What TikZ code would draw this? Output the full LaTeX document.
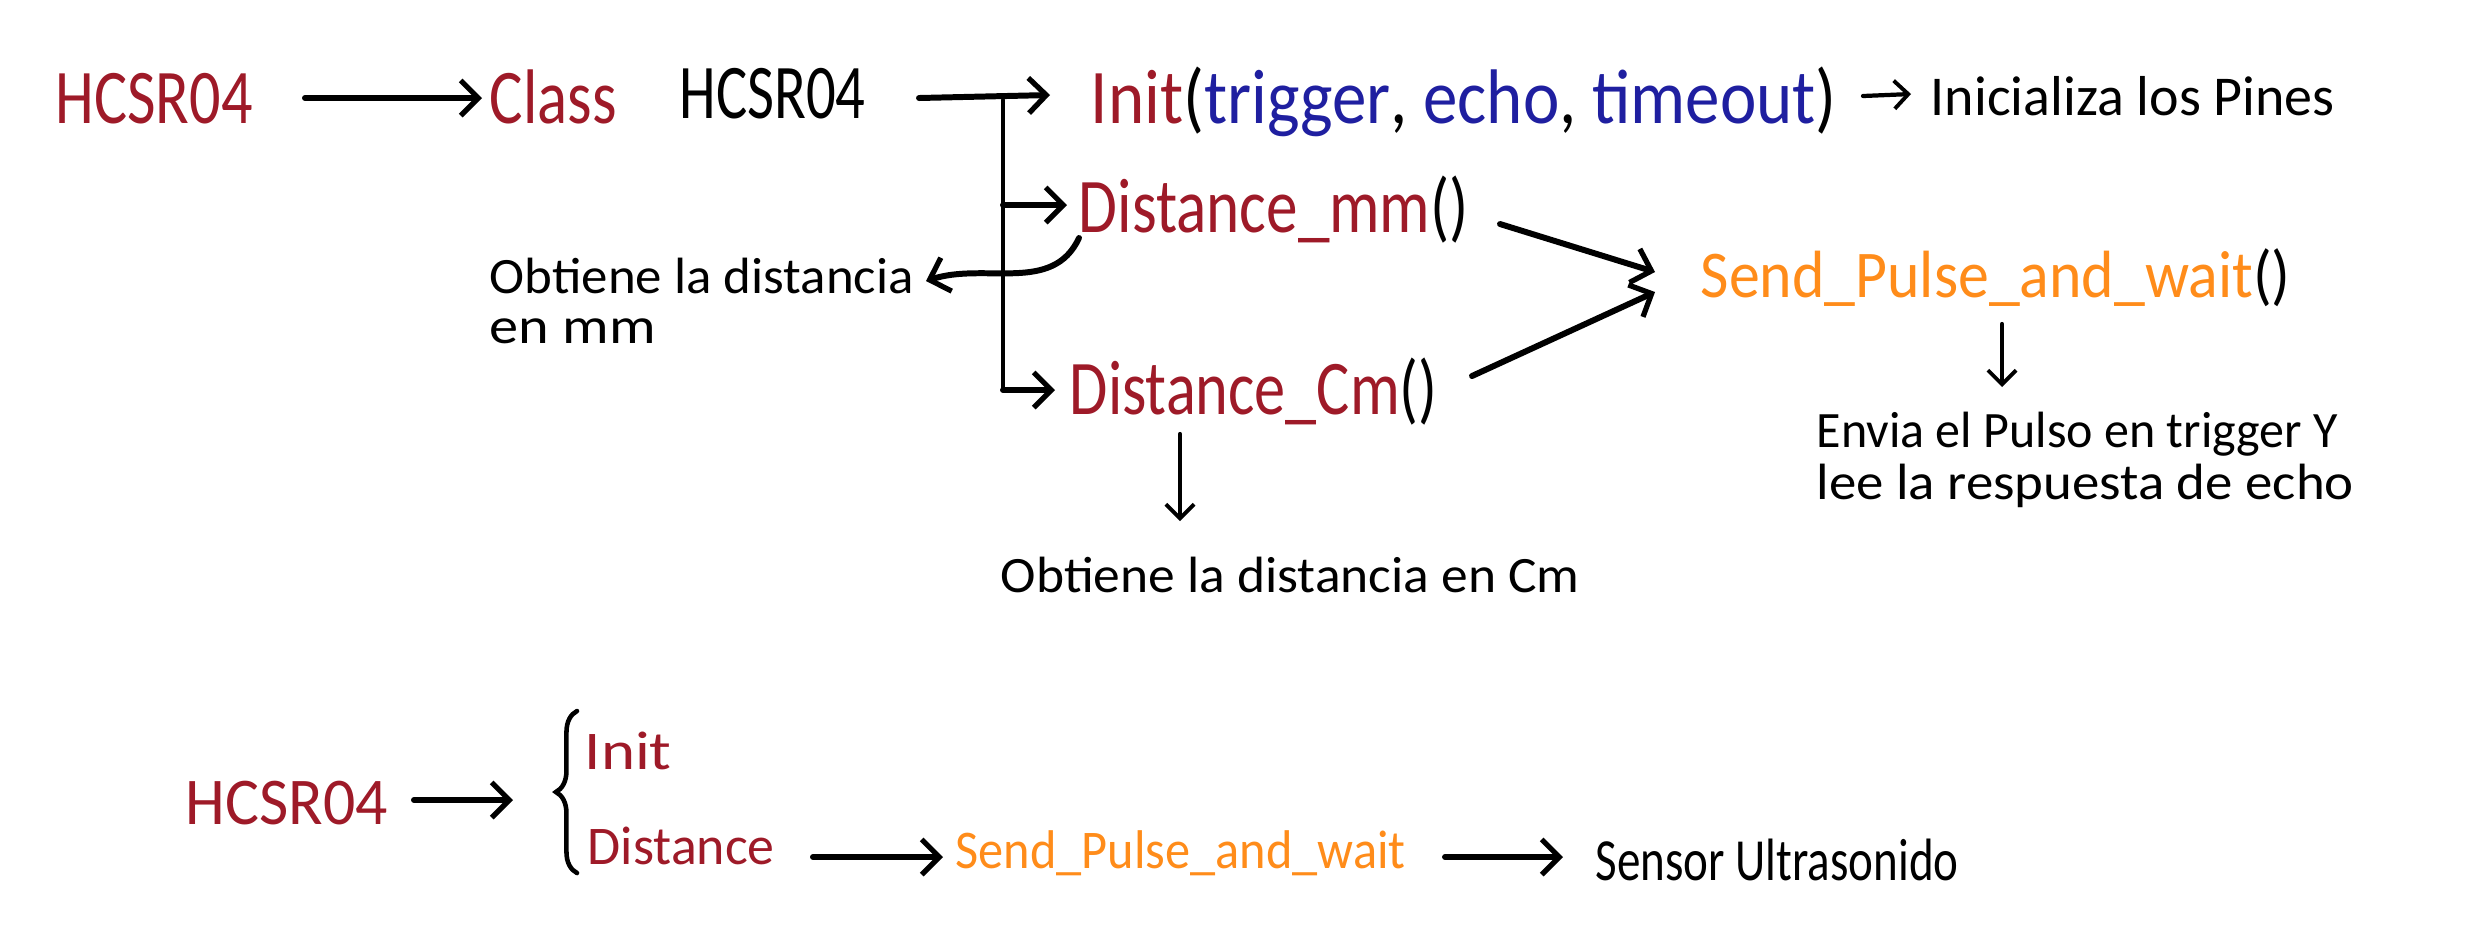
\documentclass[tikz,border=0pt]{standalone}
\usepackage{fontspec}
\setmainfont{Carlito}
\usepackage{graphicx}
\usetikzlibrary{arrows.meta,decorations.pathreplacing}
\definecolor{hred}{HTML}{9E1A28}
\definecolor{hblue}{HTML}{1F1FA0}
\definecolor{horange}{HTML}{FF8C1A}
\newlength\pxu
\setlength\pxu{0.01cm}
\newcommand\fw[2]{\resizebox{#1\pxu}{\height}{#2}}
\newcommand\fsz[1]{\fontsize{#1}{#1}\selectfont}
\begin{document}
\begin{tikzpicture}[x=0.01cm,y=-0.01cm,
  lbl/.style={inner sep=0pt, anchor=base west},
  big/.style={lbl, font=\fsz{22}},
  mid/.style={lbl, font=\fsz{19}},
  small/.style={lbl, font=\fsz{14.5}},
  arr/.style={line width=1.7pt, line cap=round, -{Straight Barb[length=5pt,width=10pt,line width=1.5pt]}},
  tarr/.style={line width=1.2pt, line cap=round, -{Straight Barb[length=4pt,width=8pt,line width=1.1pt]}},
  trunk/.style={line width=1.3pt, line cap=round}]
\useasboundingbox (0,0) rectangle (2476,941);
% ---- top row ----
\node[big, text=hred] (h1) at (55,123) {\fw{197}{HCSR04}};
\node[big, text=hred] (cls) at (489,123) {\fw{127}{Class}};
\node[big] (hc) at (679,118) {\fw{186}{HCSR04}};
\node[big] (init) at (1090,123) {\fw{746}{\textcolor{hred}{Init}(\textcolor{hblue}{trigger}, \textcolor{hblue}{echo}, \textcolor{hblue}{timeout})}};
\node[lbl, font=\fsz{16}] (ini) at (1930,115) {\fw{404}{Inicializa los Pines}};
\coordinate (a1s) at (305,98); \coordinate (a1e) at (482,98);
\coordinate (a2s) at (919,98); \coordinate (a2e) at (1050,95);
\coordinate (a3s) at (1863,96); \coordinate (a3e) at (1911,94);
\draw[arr] (a1s) -- (a1e);
\draw[arr] (a2s) -- (a2e);
\draw[tarr] (a3s) -- (a3e);
% ---- trunk and branches ----
\coordinate (tt) at (1003,100);
\coordinate (tm) at (1003,205);
\coordinate (tb) at (1003,390);
\coordinate (bme) at (1067,205);
\coordinate (bce) at (1055,390);
\draw[trunk] (tt) -- (tb);
\draw[arr] (tm) -- (bme);
\draw[arr] (tb) -- (bce);
\node[big, text=hred] (dmm) at (1078,232) {\fw{390}{Distance\_mm\textcolor{black}{()}}};
\node[big, text=hred] (dcm) at (1069,414) {\fw{368}{Distance\_Cm\textcolor{black}{()}}};
% ---- obtiene mm ----
\node[small] (omm1) at (489,293) {\fw{424}{Obtiene la distancia}};
\node[small] (omm2) at (489,343) {\fw{166}{en mm}};
\coordinate (cs) at (1079,238); \coordinate (ce) at (926,281);
\draw[arr] (cs) to[out=-115,in=18] (ce);
% ---- send pulse ----
\node[mid, text=horange] (sp) at (1700,297) {\fw{590}{Send\_Pulse\_and\_wait\textcolor{black}{()}}};
\coordinate (m1s) at (1500,224); \coordinate (m1e) at (1655,272);
\coordinate (m2s) at (1472,376); \coordinate (m2e) at (1655,292);
\draw[arr] (m1s) -- (m1e);
\draw[arr] (m2s) -- (m2e);
\coordinate (d1s) at (2002,324); \coordinate (d1e) at (2002,387);
\draw[tarr] (d1s) -- (d1e);
\node[small] (env1) at (1816,447) {\fw{521}{Envia el Pulso en trigger Y}};
\node[small] (env2) at (1816,499) {\fw{537}{lee la respuesta de echo}};
% ---- obtiene cm ----
\coordinate (d2s) at (1180,434); \coordinate (d2e) at (1180,521);
\draw[tarr] (d2s) -- (d2e);
\node[small] (ocm) at (1000,592) {\fw{579}{Obtiene la distancia en Cm}};
% ---- bottom row ----
\node[mid, text=hred] (h2) at (185,824) {\fw{202}{HCSR04}};
\coordinate (b1s) at (414,800); \coordinate (b1e) at (513,800);
\draw[arr] (b1s) -- (b1e);
\coordinate (brb) at (577,873); \coordinate (brt) at (577,711);
\draw[line width=1.3pt, line cap=round, decorate, decoration={brace, amplitude=6pt}] (brb) -- (brt);
\node[lbl, font=\fsz{15.5}, text=hred] (i2) at (584,769) {\fw{87}{Init}};
\node[lbl, font=\fsz{15.5}, text=hred] (d2) at (587,864) {\fw{187}{Distance}};
\coordinate (b2s) at (813,857); \coordinate (b2e) at (943,857);
\draw[arr] (b2s) -- (b2e);
\node[lbl, font=\fsz{15.5}, text=horange] (sp2) at (955,868) {\fw{450}{Send\_Pulse\_and\_wait}};
\coordinate (b3s) at (1445,857); \coordinate (b3e) at (1563,857);
\draw[arr] (b3s) -- (b3e);
\node[lbl, font=\fsz{17}] (sen) at (1595,880) {\fw{363}{Sensor Ultrasonido}};
\end{tikzpicture}
\end{document}
